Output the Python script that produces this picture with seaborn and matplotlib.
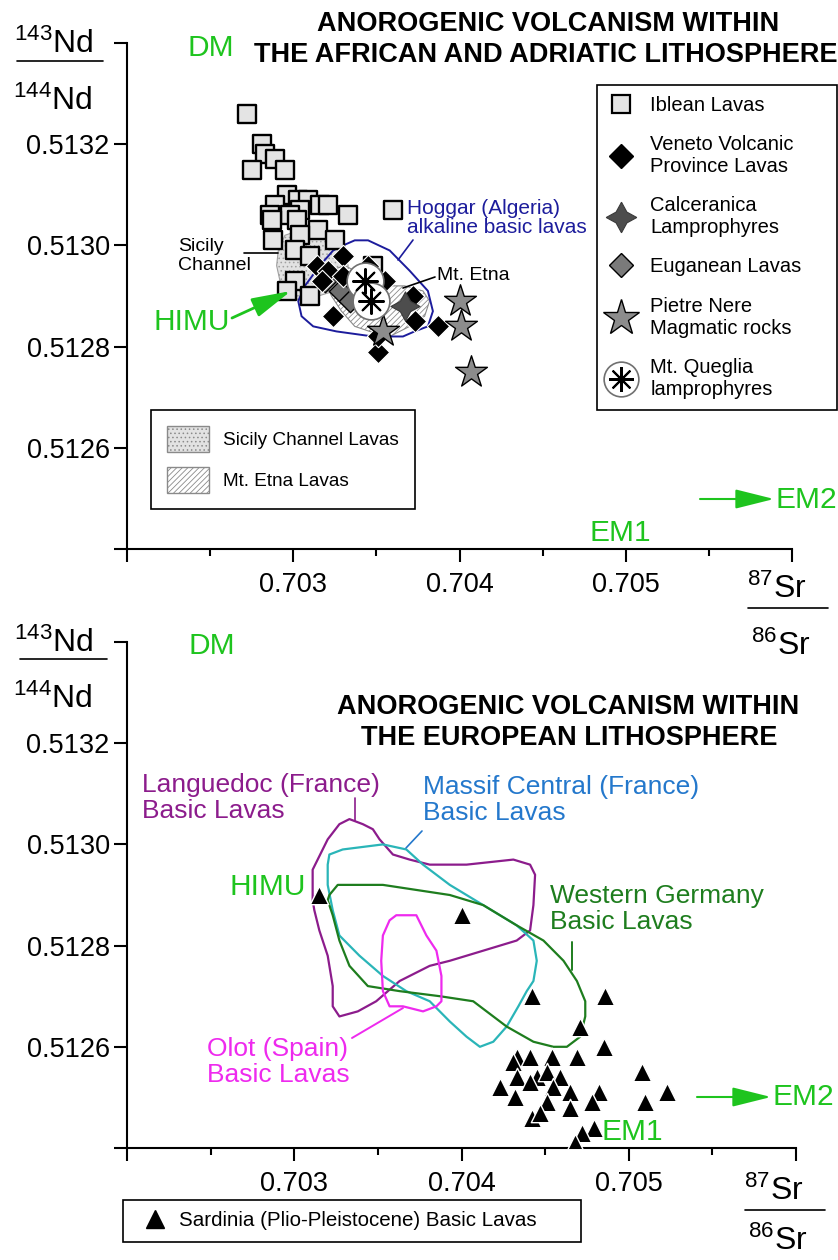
import matplotlib
matplotlib.use("Agg")
import matplotlib.pyplot as plt
import seaborn as sns
from matplotlib.lines import Line2D
from matplotlib.patches import Patch, FancyArrowPatch

sns.set_theme(style="white")
plt.rcParams["font.family"] = ["Liberation Sans", "DejaVu Sans"]
plt.rcParams["mathtext.fontset"] = "custom"
plt.rcParams["mathtext.rm"] = "Liberation Sans"
plt.rcParams["mathtext.it"] = "Liberation Sans:italic"
plt.rcParams["mathtext.bf"] = "Liberation Sans:bold"
plt.rcParams["hatch.linewidth"] = 0.6
plt.rcParams["text.color"] = "black"
plt.rcParams["xtick.color"] = "black"
plt.rcParams["ytick.color"] = "black"
plt.rcParams["legend.labelcolor"] = "black"

# ---------------------------------------------------------------- axes ticks
SR_MAJOR = [0.702, 0.703, 0.704, 0.705, 0.706]
SR_LABELS = ["", "0.703", "0.704", "0.705", ""]
SR_MINOR = [0.7025, 0.7035, 0.7045, 0.7055]
ND_TICKS = [0.5124, 0.5126, 0.5128, 0.5130, 0.5132, 0.5134]
ND_LABELS = ["", "0.5126", "0.5128", "0.5130", "0.5132", ""]

# ------------------------------------------- African / Adriatic lithosphere
iblean_sr = [0.70272, 0.70281, 0.70283, 0.70289, 0.70275, 0.70295,
             0.70296, 0.70289, 0.70286, 0.70303, 0.70309, 0.70316, 0.70321,
             0.70333, 0.70304, 0.70298, 0.70287, 0.70302, 0.70315, 0.70288,
             0.70304, 0.70325, 0.70301, 0.70310, 0.70348, 0.70301, 0.70296,
             0.70310, 0.70360]
iblean_nd = [0.51326, 0.51320, 0.51318, 0.51317, 0.51315, 0.51315,
             0.51310, 0.51308, 0.51306, 0.51309, 0.51309, 0.51308, 0.51308,
             0.51306, 0.51307, 0.51306, 0.51305, 0.51305, 0.51303, 0.51301,
             0.51302, 0.51301, 0.51299, 0.51298, 0.51296, 0.51293, 0.51291,
             0.51290, 0.51307]

veneto_sr = [0.70314, 0.70321, 0.70330, 0.70330, 0.70317, 0.70324, 0.70345,
             0.70355, 0.70351, 0.70351, 0.70373, 0.70387, 0.70372]
veneto_nd = [0.51296, 0.51295, 0.51298, 0.51294, 0.51293, 0.51286, 0.51296,
             0.51293, 0.51279, 0.51282, 0.51285, 0.51284, 0.51290]

euganean_sr = [0.70319, 0.70328, 0.70334]
euganean_nd = [0.51293, 0.51291, 0.51289]

calceranica_sr = [0.70367]
calceranica_nd = [0.51288]

pietre_sr = [0.70400, 0.70401, 0.70407, 0.70354]
pietre_nd = [0.51289, 0.51284, 0.51275, 0.51283]

queglia_sr = [0.70343, 0.70347]
queglia_nd = [0.51293, 0.51289]

sicily_sr = [0.70295, 0.70304, 0.70315, 0.70325, 0.70331, 0.70333, 0.70331,
             0.70325, 0.70315, 0.70304, 0.70296, 0.70292, 0.70290, 0.70291]
sicily_nd = [0.51302, 0.51303, 0.51302, 0.51301, 0.51298, 0.51296, 0.51293,
             0.51291, 0.51290, 0.51289, 0.51291, 0.51293, 0.51296, 0.51299]

etna_sr = [0.70322, 0.70331, 0.70343, 0.70355, 0.70367, 0.70378, 0.70382,
           0.70379, 0.70370, 0.70358, 0.70346, 0.70337, 0.70329, 0.70323,
           0.70319]
etna_nd = [0.51295, 0.51296, 0.51294, 0.51292, 0.51292, 0.51291, 0.51289,
           0.51286, 0.51284, 0.51282, 0.51283, 0.51284, 0.51287, 0.51290,
           0.51293]

hoggar_sr = [0.70330, 0.70337, 0.70345, 0.70358, 0.70370, 0.70381, 0.70384,
             0.70381, 0.70373, 0.70366, 0.70348, 0.70326, 0.70312, 0.70305,
             0.70303, 0.70307, 0.70316, 0.70324]
hoggar_nd = [0.51300, 0.51301, 0.51301, 0.51299, 0.51295, 0.51291, 0.51287,
             0.51284, 0.51283, 0.51282, 0.51282, 0.51283, 0.51284, 0.51286,
             0.51289, 0.51292, 0.51296, 0.51299]

# ------------------------------------------------------ European lithosphere
sardinia_sr = [0.70315, 0.70400, 0.70442, 0.70486, 0.70471, 0.70485, 0.70469,
               0.70508, 0.70510, 0.70523, 0.70433, 0.70441, 0.70454, 0.70431,
               0.70433, 0.70445, 0.70451, 0.70459, 0.70465, 0.70423, 0.70432,
               0.70441, 0.70455, 0.70482, 0.70478, 0.70465, 0.70451, 0.70442,
               0.70447, 0.70479, 0.70472, 0.70468]
sardinia_nd = [0.51290, 0.51286, 0.51270, 0.51270, 0.51264, 0.51260, 0.51258,
               0.51255, 0.51249, 0.51251, 0.51258, 0.51258, 0.51258, 0.51257,
               0.51254, 0.51254, 0.51255, 0.51254, 0.51251, 0.51252, 0.51250,
               0.51253, 0.51252, 0.51251, 0.51249, 0.51248, 0.51249, 0.51246,
               0.51247, 0.51244, 0.51243, 0.51241]

languedoc_sr = [0.70311, 0.70320, 0.70327, 0.70333, 0.70341, 0.70347, 0.70351,
                0.70359, 0.70369, 0.70381, 0.70403, 0.70431, 0.70441, 0.70444,
                0.70443, 0.70441, 0.70433, 0.70413, 0.70393, 0.70381, 0.70363,
                0.70349, 0.70338, 0.70327, 0.70323, 0.70323, 0.70320, 0.70315,
                0.70312, 0.70311]
languedoc_nd = [0.51295, 0.51301, 0.51304, 0.51305, 0.51304, 0.51303, 0.51301,
                0.51298, 0.51297, 0.51296, 0.51296, 0.51297, 0.51296, 0.51294,
                0.51288, 0.51283, 0.51281, 0.51279, 0.51277, 0.51276, 0.51273,
                0.51269, 0.51267, 0.51266, 0.51268, 0.51272, 0.51278, 0.51283,
                0.51287, 0.51289]

massif_sr = [0.70320, 0.70321, 0.70329, 0.70353, 0.70367, 0.70377, 0.70393,
             0.70413, 0.70433, 0.70443, 0.70445, 0.70443, 0.70439, 0.70434,
             0.70427, 0.70419, 0.70411, 0.70403, 0.70393, 0.70381, 0.70367,
             0.70353, 0.70339, 0.70327, 0.70323, 0.70320]
massif_nd = [0.51296, 0.51298, 0.51299, 0.51300, 0.51299, 0.51296, 0.51292,
             0.51288, 0.51284, 0.51281, 0.51277, 0.51273, 0.51271, 0.51268,
             0.51264, 0.51261, 0.51260, 0.51262, 0.51265, 0.51269, 0.51271,
             0.51274, 0.51278, 0.51282, 0.51287, 0.51292]

germany_sr = [0.70320, 0.70321, 0.70326, 0.70333, 0.70353, 0.70373, 0.70393,
              0.70413, 0.70433, 0.70449, 0.70461, 0.70469, 0.70474, 0.70474,
              0.70471, 0.70463, 0.70455, 0.70443, 0.70427, 0.70407, 0.70387,
              0.70363, 0.70344, 0.70333, 0.70327, 0.70323, 0.70321]
germany_nd = [0.51289, 0.51290, 0.51292, 0.51292, 0.51292, 0.51291, 0.51290,
              0.51288, 0.51284, 0.51281, 0.51277, 0.51273, 0.51269, 0.51266,
              0.51262, 0.51260, 0.51260, 0.51261, 0.51264, 0.51269, 0.51270,
              0.51271, 0.51272, 0.51276, 0.51281, 0.51286, 0.51288]

olot_sr = [0.70365, 0.70373, 0.70379, 0.70385, 0.70388, 0.70388, 0.70385,
           0.70377, 0.70365, 0.70357, 0.70353, 0.70352, 0.70353, 0.70357,
           0.70361]
olot_nd = [0.51286, 0.51286, 0.51282, 0.51279, 0.51274, 0.51269, 0.51268,
           0.51267, 0.51268, 0.51268, 0.51271, 0.51277, 0.51282, 0.51285,
           0.51286]

# -------------------------------------------------------------------- style
GREEN = "#1ec41e"
NAVY = "#1c1c9c"
PURPLE = "#8c1c8c"
BLUE = "#2478cc"
TEAL = "#2ab5b8"
DKGREEN = "#1e7d1e"
MAGENTA = "#ee2aee"
SQ_FACE = "#e4e4e4"

W, H = 838, 1260
fig = plt.figure(figsize=(W / 100, H / 100), dpi=100)
fig.patch.set_facecolor("white")


def fx(px):
    return px / W


def fy(py):
    return 1 - py / H


def ftext(px, py, s, **kw):
    fig.text(fx(px), fy(py), s, **kw)


def fline(p0, p1, color="black", lw=1.2):
    fig.add_artist(Line2D([fx(p0[0]), fx(p1[0])], [fy(p0[1]), fy(p1[1])],
                          transform=fig.transFigure, color=color, lw=lw))


def farrow(p0, p1, color=GREEN, lw=2.0):
    fig.add_artist(FancyArrowPatch(
        (fx(p0[0]), fy(p0[1])), (fx(p1[0]), fy(p1[1])),
        transform=fig.transFigure,
        arrowstyle="-|>,head_length=1.2,head_width=0.3",
        mutation_scale=20, color=color, lw=lw, shrinkA=0, shrinkB=0))


ax1 = fig.add_axes([fx(127), fy(549), (792 - 127) / W, (549 - 43) / H])
ax2 = fig.add_axes([fx(127), fy(1148), (796 - 127) / W, (1148 - 642) / H])

# ----------------------------------------------------------- upper diagram
ax1.fill(sicily_sr, sicily_nd, facecolor="#e2e2e2", edgecolor="#a0a0a0",
         hatch="....", lw=0.8, zorder=1)
ax1.fill(etna_sr, etna_nd, facecolor="white", edgecolor="#8a8a8a",
         hatch="//////", lw=0.8, zorder=2)
ax1.fill(hoggar_sr, hoggar_nd, facecolor="none", edgecolor=NAVY, lw=1.4,
         zorder=3)

sns.scatterplot(x=iblean_sr, y=iblean_nd, ax=ax1, marker="s", s=180,
                color=SQ_FACE, edgecolor="black", linewidth=1.7, zorder=4,
                legend=False)
sns.scatterplot(x=euganean_sr, y=euganean_nd, ax=ax1, marker="D", s=130,
                color="#6e6e6e", edgecolor="black", linewidth=1.0, zorder=5,
                legend=False)
sns.scatterplot(x=veneto_sr, y=veneto_nd, ax=ax1, marker="D", s=130,
                color="black", edgecolor="white", linewidth=0.8, zorder=6,
                legend=False)
sns.scatterplot(x=calceranica_sr, y=calceranica_nd, ax=ax1, marker=(4, 1, 0),
                s=440, color="#4d4d4d", edgecolor="#3a3a3a", linewidth=0.8,
                zorder=7, legend=False)
sns.scatterplot(x=pietre_sr, y=pietre_nd, ax=ax1, marker="*", s=580,
                color="#8c8c8c", edgecolor="black", linewidth=1.0, zorder=8,
                legend=False)
sns.scatterplot(x=queglia_sr, y=queglia_nd, ax=ax1, marker="o", s=700,
                color="white", edgecolor="#707070", linewidth=1.2, zorder=9,
                legend=False)
sns.scatterplot(x=queglia_sr, y=queglia_nd, ax=ax1, marker=(8, 2, 0), s=320,
                color="black", linewidth=1.5, zorder=10, legend=False)

# ----------------------------------------------------------- lower diagram
for xs, ys, col in ((languedoc_sr, languedoc_nd, PURPLE),
                    (massif_sr, massif_nd, TEAL),
                    (germany_sr, germany_nd, DKGREEN),
                    (olot_sr, olot_nd, MAGENTA)):
    ax2.fill(xs, ys, facecolor="none", edgecolor=col, lw=1.6,
             joinstyle="round", zorder=2)

sns.scatterplot(x=sardinia_sr, y=sardinia_nd, ax=ax2, marker="^", s=175,
                color="black", edgecolor="white", linewidth=1.0, zorder=5,
                legend=False)

# ------------------------------------------------------------- axes style
for ax in (ax1, ax2):
    ax.set_xlim(0.702, 0.706)
    ax.set_ylim(0.5124, 0.5134)
    ax.set_facecolor("none")
    for side in ("top", "right"):
        ax.spines[side].set_visible(False)
    for side in ("left", "bottom"):
        ax.spines[side].set_linewidth(1.5)
        ax.spines[side].set_color("black")
    ax.set_xticks(SR_MAJOR)
    ax.set_xticklabels(SR_LABELS)
    ax.set_xticks(SR_MINOR, minor=True)
    ax.set_yticks(ND_TICKS)
    ax.set_yticklabels(ND_LABELS)
    ax.tick_params(axis="both", which="major", direction="out", length=9.5,
                   width=1.5, color="black", labelsize=19.5,
                   labelcolor="black", bottom=True, left=True)
    ax.tick_params(axis="x", which="minor", direction="out", length=5,
                   width=1.5, color="black", bottom=True)
    ax.tick_params(axis="y", pad=3)
    ax.tick_params(axis="x", pad=7)
    ax.set_xlabel("")
    ax.set_ylabel("")

# ------------------------------------------------- upper diagram annotations
ftext(548, 24, "ANOROGENIC VOLCANISM WITHIN", ha="center", va="center",
      fontsize=19.5, fontweight="bold")
ftext(546, 55, "THE AFRICAN AND ADRIATIC LITHOSPHERE", ha="center",
      va="center", fontsize=19.5, fontweight="bold")
ftext(211, 48, "DM", ha="center", va="center", fontsize=21.5, color=GREEN)
ftext(192, 322, "HIMU", ha="center", va="center", fontsize=21.5,
      color=GREEN)
farrow((232, 318), (291, 291))
ftext(620, 533, "EM1", ha="center", va="center", fontsize=21.5, color=GREEN)
farrow((700, 499), (774, 499), lw=1.5)
ftext(775, 500, "EM2", ha="left", va="center", fontsize=21.5, color=GREEN)

ftext(178, 256, "Sicily\nChannel", ha="left", va="center", fontsize=14,
      linespacing=1.1)
fline((244, 253), (278, 253))
ftext(437, 276, "Mt. Etna", ha="left", va="center", fontsize=14)
fline((403, 288), (435, 277))
ftext(407, 218, "Hoggar (Algeria)\nalkaline basic lavas", ha="left",
      va="center", fontsize=15, color=NAVY, linespacing=1.0)
fline((398, 260), (413, 240), color=NAVY)

ftext(14, 53, r"$^{143}$Nd", ha="left", va="baseline", fontsize=23)
fline((17, 61), (103, 61), lw=1.2)
ftext(13, 110, r"$^{144}$Nd", ha="left", va="baseline", fontsize=23)
ftext(747, 598, r"$^{87}$Sr", ha="left", va="baseline", fontsize=23)
fline((748, 608), (828, 608), lw=1.2)
ftext(751, 655, r"$^{86}$Sr", ha="left", va="baseline", fontsize=23)

# ------------------------------------------------- lower diagram annotations
ftext(568, 707, "ANOROGENIC VOLCANISM WITHIN", ha="center", va="center",
      fontsize=19.5, fontweight="bold")
ftext(569, 738, "THE EUROPEAN LITHOSPHERE", ha="center", va="center",
      fontsize=19.5, fontweight="bold")
ftext(212, 646, "DM", ha="center", va="center", fontsize=21.5, color=GREEN)
ftext(306, 887, "HIMU", ha="right", va="center", fontsize=21.5,
      color=GREEN)
ftext(632, 1132, "EM1", ha="center", va="center", fontsize=21.5,
      color=GREEN)
farrow((697, 1097), (771, 1097), lw=1.5)
ftext(772, 1097, "EM2", ha="left", va="center", fontsize=21.5, color=GREEN)

ftext(142, 798, "Languedoc (France)\nBasic Lavas", ha="left", va="center",
      fontsize=19, color=PURPLE, linespacing=1.1)
fline((355, 798), (355, 821), color=PURPLE)
ftext(423, 800, "Massif Central (France)\nBasic Lavas", ha="left",
      va="center", fontsize=19, color=BLUE, linespacing=1.1)
fline((422, 831), (406, 848), color=BLUE)
ftext(550, 909, "Western Germany\nBasic Lavas", ha="left", va="center",
      fontsize=19, color=DKGREEN, linespacing=1.1)
fline((572, 942), (572, 970), color=DKGREEN, lw=1.4)
ftext(207, 1062, "Olot (Spain)\nBasic Lavas", ha="left", va="center",
      fontsize=19, color=MAGENTA, linespacing=1.1)
fline((403, 1008), (352, 1038), color=MAGENTA, lw=1.4)

ftext(14, 652, r"$^{143}$Nd", ha="left", va="baseline", fontsize=23)
fline((20, 659), (107, 659), lw=1.2)
ftext(13, 708, r"$^{144}$Nd", ha="left", va="baseline", fontsize=23)
ftext(744, 1200, r"$^{87}$Sr", ha="left", va="baseline", fontsize=23)
fline((745, 1210), (825, 1210), lw=1.2)
ftext(748, 1250, r"$^{86}$Sr", ha="left", va="baseline", fontsize=23)

# ----------------------------------------------------------------- legends
h_ib = Line2D([], [], ls="none", marker="s", ms=13, mfc=SQ_FACE,
              mec="black", mew=1.6)
h_ve = Line2D([], [], ls="none", marker="D", ms=12, mfc="black",
              mec="black")
h_ca = Line2D([], [], ls="none", marker=(4, 1, 0), ms=22, mfc="#4d4d4d",
              mec="#3a3a3a", mew=0.8)
h_eu = Line2D([], [], ls="none", marker="D", ms=12, mfc="#7a7a7a",
              mec="black", mew=1.0)
h_pn = Line2D([], [], ls="none", marker="*", ms=27, mfc="#8c8c8c",
              mec="black", mew=1.0)
h_mq = (Line2D([], [], ls="none", marker="o", ms=25, mfc="white",
               mec="#707070", mew=1.2),
        Line2D([], [], ls="none", marker=(8, 2, 0), ms=18, color="black",
               mew=1.5))
leg1 = fig.legend(
    [h_ib, h_ve, h_ca, h_eu, h_pn, h_mq],
    ["Iblean Lavas", "Veneto Volcanic\nProvince Lavas",
     "Calceranica\nLamprophyres", "Euganean Lavas",
     "Pietre Nere\nMagmatic rocks", "Mt. Queglia\nlamprophyres"],
    loc="upper left", bbox_to_anchor=(fx(597), fy(85), (837 - 597) / W, 0),
    mode="expand", fontsize=14.5, frameon=True, fancybox=False,
    edgecolor="black", framealpha=1, borderpad=0.55, labelspacing=1.0,
    handlelength=1.3, handletextpad=0.8, borderaxespad=0)
leg1.get_frame().set_linewidth(1.2)

p_sc = Patch(facecolor="#e2e2e2", edgecolor="#8a8a8a", hatch="....",
             lw=1.0)
p_et = Patch(facecolor="white", edgecolor="#8a8a8a", hatch="//////",
             lw=1.0)
leg2 = fig.legend(
    [p_sc, p_et], ["Sicily Channel Lavas", "Mt. Etna Lavas"],
    loc="upper left", bbox_to_anchor=(fx(151), fy(410)), fontsize=13.7,
    frameon=True, fancybox=False, edgecolor="black", framealpha=1,
    borderpad=0.85, labelspacing=0.75, handlelength=2.2, handleheight=1.74,
    handletextpad=0.75, borderaxespad=0)
leg2.get_frame().set_linewidth(1.2)

h_sa = Line2D([], [], ls="none", marker="^", ms=13, mfc="black",
              mec="black")
leg3 = fig.legend(
    [h_sa], ["Sardinia (Plio-Pleistocene) Basic Lavas"],
    loc="upper left", bbox_to_anchor=(fx(123), fy(1200), (581 - 123) / W, 0),
    mode="expand", fontsize=14.8, frameon=True, fancybox=False,
    edgecolor="black", framealpha=1, borderpad=0.55, handlelength=2.0,
    handletextpad=0.15, borderaxespad=0)
leg3.get_frame().set_linewidth(1.2)

fig.savefig("out.png", dpi=100, facecolor="white")
